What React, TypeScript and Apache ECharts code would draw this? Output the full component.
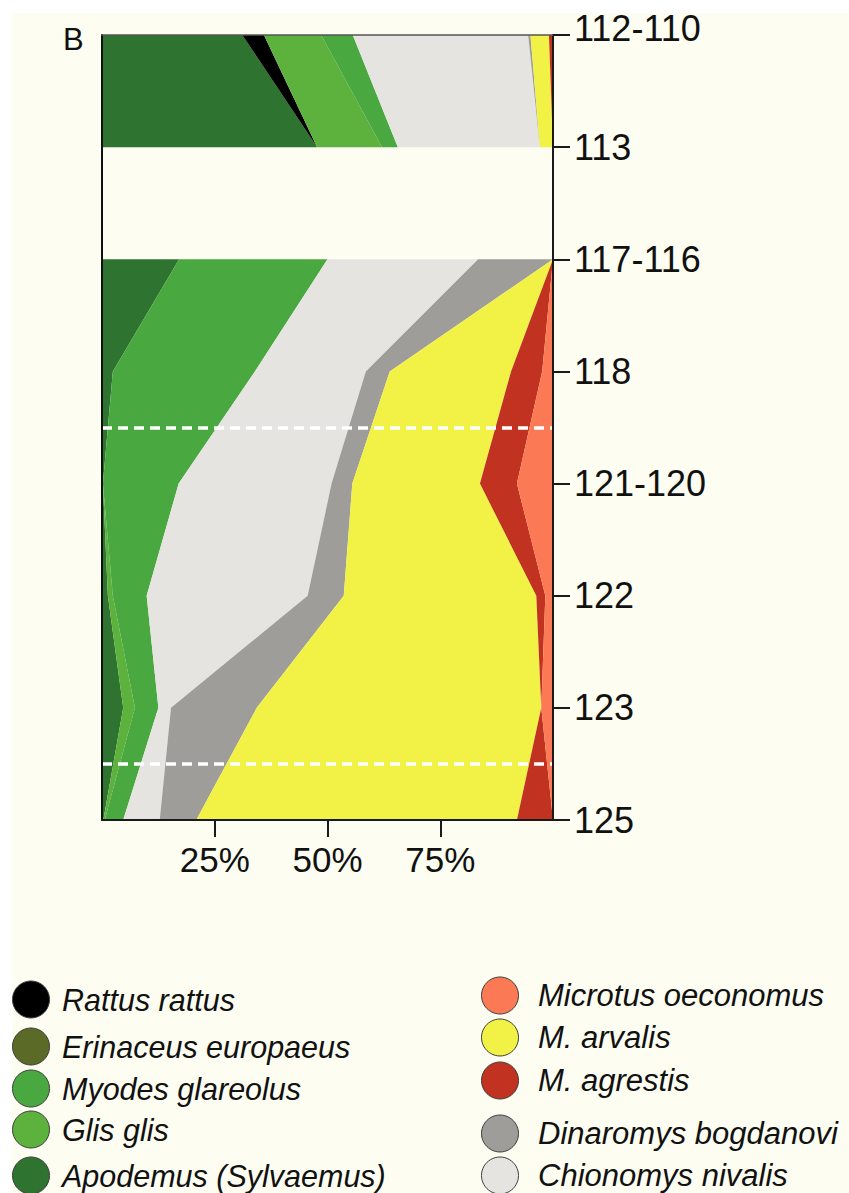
import React, { useEffect, useRef } from 'react';
import * as echarts from 'echarts';

// Stratigraphic levels (top to bottom); the upper block is separated from the lower one by an unsampled gap
const upperLevels = ['112-110', '113'];
const lowerLevels = ['117-116', '118', '121-120', '122', '123', '125'];
const levels = [...upperLevels, ...lowerLevels];

// Percentage of each taxon per level (order of levels above)
const apodemus = [31.1, 47.7, 17.1, 2.4, 0.2, 1.3, 4.7, 0.3];
const rattus = [4.8, 0, 0, 0, 0, 0, 0, 0];
const erinaceus = [0, 0, 0, 0, 0, 0, 0, 0];
const glis = [12.7, 14.4, 0, 0, 0, 1.1, 2.6, 0.3];
const myodes = [7.0, 3.5, 32.9, 31.5, 16.8, 7.5, 5.2, 4.1];
const chionomys = [38.9, 31.5, 33.4, 24.6, 33.9, 35.7, 2.8, 8.1];
const dinaromys = [0.5, 0, 16.6, 5.3, 4.6, 8.0, 19.0, 8.1];
const arvalis = [4.1, 2.9, 0, 26.9, 28.3, 42.7, 63.1, 71.1];
const agrestis = [0.9, 0, 0, 6.9, 8.2, 2.0, 0, 8.0];
const oeconomus = [0, 0, 0, 2.4, 8.0, 1.7, 2.6, 0];

// Dashed boundaries, in level-index units
const boundaryLines = [3.5, 6.5];
const xTickValues = [25, 50, 75];

const speciesList = [
  { name: 'Apodemus (Sylvaemus)', color: '#2f7331', values: apodemus },
  { name: 'Rattus rattus', color: '#000000', values: rattus },
  { name: 'Erinaceus europaeus', color: '#5b6b27', values: erinaceus },
  { name: 'Glis glis', color: '#5db23d', values: glis },
  { name: 'Myodes glareolus', color: '#4aa840', values: myodes },
  { name: 'Chionomys nivalis', color: '#e5e4e0', values: chionomys },
  { name: 'Dinaromys bogdanovi', color: '#9e9d99', values: dinaromys },
  { name: 'M. arvalis', color: '#f1f146', values: arvalis },
  { name: 'M. agrestis', color: '#c13221', values: agrestis },
  { name: 'Microtus oeconomus', color: '#fb7a55', values: oeconomus },
];

const legendLeftCol = ['Rattus rattus', 'Erinaceus europaeus', 'Myodes glareolus', 'Glis glis', 'Apodemus (Sylvaemus)'];
const legendRightCol = ['Microtus oeconomus', 'M. arvalis', 'M. agrestis', 'Dinaromys bogdanovi', 'Chionomys nivalis'];

const FONT = '"Liberation Sans", Arial, Helvetica, sans-serif';
const CREAM = '#fdfdf1';
const W = 849;
const H = 1193;

export default function App() {
  const ref = useRef<HTMLDivElement>(null);

  useEffect(() => {
    if (!ref.current) return;
    const chart = echarts.init(ref.current, null, { renderer: 'svg' });
    const upperCount = upperLevels.length;

    const series: any[] = [];
    speciesList.forEach((sp) => {
      ['upper', 'lower'].forEach((block) => {
        const data = sp.values.map((v, i) =>
          (block === 'upper' ? i < upperCount : i >= upperCount) ? v : null
        );
        series.push({
          name: sp.name,
          type: 'line',
          stack: block,
          xAxisIndex: 0,
          yAxisIndex: 0,
          data,
          symbol: 'none',
          showSymbol: false,
          connectNulls: false,
          color: sp.color,
          lineStyle: { width: 0, color: sp.color },
          itemStyle: { color: sp.color },
          areaStyle: { color: sp.color, opacity: 1 },
          emphasis: { disabled: true },
          silent: true,
          z: 2,
        });
      });
    });

    series.push({
      name: 'boundaries',
      type: 'line',
      xAxisIndex: 0,
      yAxisIndex: 2,
      data: [],
      silent: true,
      z: 5,
      markLine: {
        symbol: ['none', 'none'],
        silent: true,
        animation: false,
        label: { show: false },
        emphasis: { disabled: true },
        lineStyle: { color: '#ffffff', width: 3.5, type: [10, 6] },
        data: boundaryLines.map((v) => ({ yAxis: v })),
      },
    });

    const legendTopsLeft = [980.5, 1027.5, 1069.5, 1110.5, 1156.5];
    const legendTopsRight = [976.5, 1018.5, 1061.5, 1114.5, 1156.5];
    const legendCommon = {
      orient: 'vertical',
      padding: 0,
      itemHeight: 37,
      selectedMode: false,
      formatter: '{t|{name}}',
      itemStyle: { borderColor: '#3c3c3c', borderWidth: 1 },
    };
    const richText = (pad: number, size: number) => ({
      fontSize: size,
      fontStyle: 'italic',
      color: '#111',
      fontFamily: FONT,
      rich: {
        t: { fontSize: size, fontStyle: 'italic', color: '#111', fontFamily: FONT, padding: [0, 0, 0, pad] },
      },
    });
    const legends = [
      ...legendLeftCol.map((n, i) => ({
        ...legendCommon,
        data: [{ name: n, icon: 'circle' }],
        left: 12,
        top: legendTopsLeft[i],
        itemWidth: 48,
        textStyle: richText(2, 30.5),
      })),
      ...legendRightCol.map((n, i) => ({
        ...legendCommon,
        data: [{ name: n, icon: 'circle' }],
        left: 481,
        top: legendTopsRight[i],
        itemWidth: 60,
        textStyle: richText(3, 31),
      })),
    ];

    const axisColor = '#1a1a1a';

    chart.setOption({
      animation: false,
      backgroundColor: '#ffffff',
      title: {
        text: 'B',
        left: 63,
        top: 24,
        padding: 0,
        textStyle: { fontSize: 31, fontWeight: 'normal', color: '#111', fontFamily: FONT },
      },
      graphic: [
        {
          type: 'rect',
          left: 12,
          top: 13,
          shape: { width: W - 12, height: H - 13 },
          style: { fill: CREAM },
          z: -10,
          silent: true,
        },
      ],
      grid: { left: 102, top: 35, width: 451, height: 785, containLabel: false, outerBoundsMode: 'none' },
      xAxis: [
        {
          type: 'value',
          min: 0,
          max: 100,
          interval: 25,
          position: 'bottom',
          z: 10,
          axisLine: { show: true, onZero: false, lineStyle: { color: axisColor, width: 2 } },
          axisTick: { show: true, length: 17, customValues: xTickValues, lineStyle: { color: axisColor, width: 2 } },
          axisLabel: {
            customValues: xTickValues,
            formatter: '{value}%',
            fontSize: 35,
            color: '#111',
            fontFamily: FONT,
            margin: 22,
          },
          splitLine: { show: false },
        },
        {
          type: 'value',
          min: 0,
          max: 100,
          position: 'top',
          z: 10,
          axisLine: { show: true, onZero: false, lineStyle: { color: '#555', width: 1.5 } },
          axisTick: { show: false },
          axisLabel: { show: false },
          splitLine: { show: false },
        },
      ],
      yAxis: [
        {
          type: 'category',
          data: levels,
          inverse: true,
          boundaryGap: false,
          position: 'right',
          z: 10,
          axisLine: { show: true, onZero: false, lineStyle: { color: axisColor, width: 2 } },
          axisTick: { show: true, length: 17, lineStyle: { color: axisColor, width: 2 } },
          axisLabel: {
            interval: 0,
            fontSize: 36,
            color: '#111',
            fontFamily: FONT,
            margin: 21,
            formatter: (v: string, i: number) => (i === 0 ? `{first|${v}}` : v),
            rich: {
              first: { fontSize: 36, color: '#111', fontFamily: FONT, padding: [0, 0, 14, 0] },
            },
          },
          splitLine: { show: false },
        },
        {
          type: 'category',
          data: levels,
          inverse: true,
          boundaryGap: false,
          position: 'left',
          z: 10,
          axisLine: { show: true, onZero: false, lineStyle: { color: '#111', width: 2 } },
          axisTick: { show: false },
          axisLabel: { show: false },
          splitLine: { show: false },
        },
        {
          type: 'value',
          min: 0,
          max: levels.length - 1,
          inverse: true,
          show: false,
          splitLine: { show: false },
        },
      ],
      legend: legends,
      series,
    });

    return () => {
      chart.dispose();
    };
  }, []);

  return (
    <div style={{ position: 'absolute', left: 0, top: 0, width: W, height: H, background: '#fff' }}>
      <div ref={ref} style={{ width: W, height: H }} />
    </div>
  );
}
